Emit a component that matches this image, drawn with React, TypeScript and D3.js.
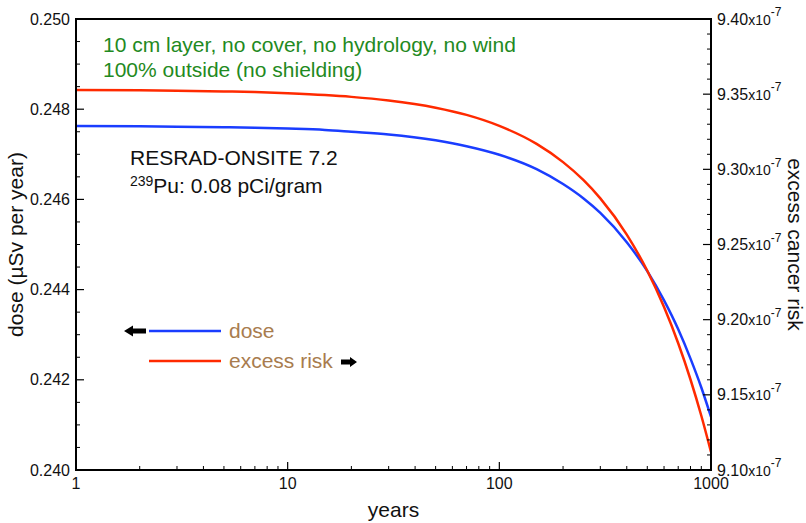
import React from 'react';
import * as d3 from 'd3';

// ---- data ----
const years = [1, 2, 3, 5, 7, 10, 15, 20, 30, 50, 70, 100, 150, 200, 250, 300, 400, 500, 600, 700, 800, 900, 1000];
const dose = [0.24763, 0.24762, 0.24761, 0.2476, 0.24759, 0.24757, 0.24754, 0.2475, 0.24744, 0.24731, 0.24718, 0.24699, 0.24667, 0.24634, 0.24602, 0.2457, 0.24505, 0.24441, 0.24376, 0.24312, 0.24247, 0.24183, 0.24118];
// excess cancer risk, in units of 1e-7
const risk = [9.3528, 9.3526, 9.3523, 9.3518, 9.3514, 9.3506, 9.3494, 9.3482, 9.3458, 9.341, 9.3362, 9.3289, 9.3169, 9.3048, 9.2928, 9.2807, 9.2566, 9.2325, 9.2084, 9.1843, 9.1602, 9.1361, 9.112];

const doseTicks = [0.24, 0.242, 0.244, 0.246, 0.248, 0.25];
const riskTicks = [9.1, 9.15, 9.2, 9.25, 9.3, 9.35, 9.4];
const yearTicks = [1, 10, 100, 1000];

const annotGreen = ['10 cm layer, no cover, no hydrology, no wind', '100% outside (no shielding)'];
const legendLabels = ['dose', 'excess risk'];

const W = 806, H = 523;
const L = 76, R = 711, T = 19, B = 470;
const FONT = "'Liberation Sans', Arial, Helvetica, sans-serif";
const BLUE = '#1a3dff';
const RED = '#ff2a00';
const GREEN = '#1f8a22';
const TAN = '#a87c4e';

export default function App() {
  const x = d3.scaleLog().domain([1, 1000]).range([L, R]);
  const yL = d3.scaleLinear().domain([0.24, 0.25]).range([B, T]);
  const yR = d3.scaleLinear().domain([9.1, 9.4]).range([B, T]);

  const doseLine = d3.line<number>().x((_, i) => x(years[i])).y(d => yL(d)).curve(d3.curveMonotoneX);
  const riskLine = d3.line<number>().x((_, i) => x(years[i])).y(d => yR(d)).curve(d3.curveMonotoneX);

  const xMinor = x.ticks().filter(t => !yearTicks.includes(t));
  const yLMinor = yL.ticks(20).filter(t => !doseTicks.some(m => Math.abs(m - t) < 1e-9));
  const yRMinor = yR.ticks(30).filter(t => !riskTicks.some(m => Math.abs(m - t) < 1e-9));

  const arrowLeft = (tipX: number, cy: number) =>
    `M${tipX},${cy} L${tipX + 9},${cy - 5.5} L${tipX + 9},${cy - 2.5} L${tipX + 22},${cy - 2.5} L${tipX + 22},${cy + 2.5} L${tipX + 9},${cy + 2.5} L${tipX + 9},${cy + 5.5} Z`;
  const arrowRight = (tipX: number, cy: number) =>
    `M${tipX},${cy} L${tipX - 7},${cy - 5} L${tipX - 7},${cy - 2.5} L${tipX - 16},${cy - 2.5} L${tipX - 16},${cy + 2.5} L${tipX - 7},${cy + 2.5} L${tipX - 7},${cy + 5} Z`;

  return (
    <svg width={W} height={H} style={{ position: 'absolute', left: 0, top: 0, background: '#fff' }} fontFamily={FONT}>
      <defs>
        <clipPath id="plotclip">
          <rect x={L} y={T} width={R - L} height={B - T} />
        </clipPath>
      </defs>
      <rect x={0} y={0} width={W} height={H} fill="#fff" />

      {/* curves */}
      <g clipPath="url(#plotclip)">
        <path d={doseLine(dose) || ''} fill="none" stroke={BLUE} strokeWidth={2.5} />
        <path d={riskLine(risk) || ''} fill="none" stroke={RED} strokeWidth={2.5} />
      </g>

      {/* frame */}
      <rect x={L} y={T} width={R - L} height={B - T} fill="none" stroke="#000" strokeWidth={2} />

      {/* left axis ticks */}
      {doseTicks.map(t => (
        <g key={'lt' + t}>
          <line x1={L} x2={L + 8} y1={yL(t)} y2={yL(t)} stroke="#000" strokeWidth={1.2} />
          <text x={L - 6} y={yL(t)} dy="0.35em" textAnchor="end" fontSize={16} fill="#111">{t.toFixed(3)}</text>
        </g>
      ))}
      {yLMinor.map(t => (
        <line key={'lm' + t} x1={L} x2={L + 4} y1={yL(t)} y2={yL(t)} stroke="#000" strokeWidth={1} />
      ))}

      {/* right axis ticks */}
      {riskTicks.map(t => (
        <g key={'rt' + t}>
          <line x1={R} x2={R - 8} y1={yR(t)} y2={yR(t)} stroke="#000" strokeWidth={1.2} />
          <text x={R + 6} y={yR(t)} dy="0.35em" fontSize={16} fill="#111">
            {t.toFixed(2)}
            <tspan fontSize={14}>x10</tspan>
            <tspan fontSize={12} dy="-0.7em">-7</tspan>
          </text>
        </g>
      ))}
      {yRMinor.map(t => (
        <line key={'rm' + t} x1={R} x2={R - 4} y1={yR(t)} y2={yR(t)} stroke="#000" strokeWidth={1} />
      ))}

      {/* bottom axis ticks */}
      {yearTicks.map(t => (
        <g key={'bt' + t}>
          <line x1={x(t)} x2={x(t)} y1={B} y2={B - 8} stroke="#000" strokeWidth={1.2} />
          <text x={x(t)} y={489} textAnchor="middle" fontSize={16} fill="#111">{t}</text>
        </g>
      ))}
      {xMinor.map(t => (
        <line key={'bm' + t} x1={x(t)} x2={x(t)} y1={B} y2={B - 4} stroke="#000" strokeWidth={1} />
      ))}

      {/* axis titles */}
      <text x={(L + R) / 2} y={517} textAnchor="middle" fontSize={21} fill="#111">years</text>
      <text transform={`translate(23,${(T + B) / 2}) rotate(-90)`} textAnchor="middle" fontSize={21} fill="#111">dose (µSv per year)</text>
      <text transform={`translate(788,${(T + B) / 2}) rotate(90)`} textAnchor="middle" fontSize={21} fill="#111">excess cancer risk</text>

      {/* annotations */}
      <text x={103} y={52} fontSize={21} fill={GREEN}>{annotGreen[0]}</text>
      <text x={103} y={77} fontSize={21} fill={GREEN}>{annotGreen[1]}</text>
      <text x={130} y={165} fontSize={21} fill="#111">RESRAD-ONSITE 7.2</text>
      <text x={130} y={193} fontSize={21} fill="#111">
        <tspan fontSize={14} dy="-7">239</tspan>
        <tspan dy="7">Pu: 0.08 pCi/gram</tspan>
      </text>

      {/* legend */}
      <line x1={149} x2={221} y1={331} y2={331} stroke={BLUE} strokeWidth={2.5} />
      <text x={229} y={338} fontSize={21} fill={TAN}>{legendLabels[0]}</text>
      <path d={arrowLeft(124, 331)} fill="#000" />
      <line x1={149} x2={221} y1={361} y2={361} stroke={RED} strokeWidth={2.5} />
      <text x={229} y={368} fontSize={21} fill={TAN}>{legendLabels[1]}</text>
      <path d={arrowRight(357, 362)} fill="#000" />
    </svg>
  );
}
